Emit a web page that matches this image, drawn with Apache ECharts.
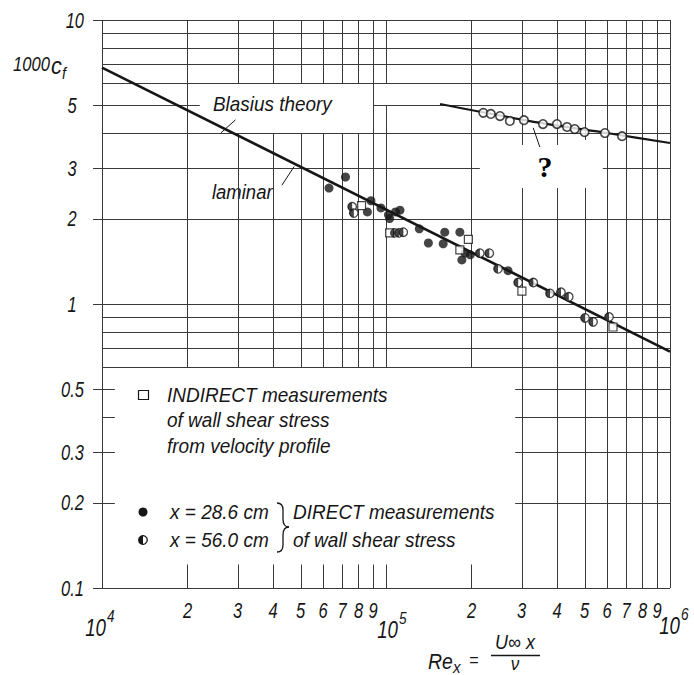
<!DOCTYPE html>
<html><head><meta charset="utf-8">
<script src="https://cdn.jsdelivr.net/npm/echarts@6/dist/echarts.min.js"></script>
<style>html,body{margin:0;padding:0;background:#fff}#c{width:694px;height:675px}</style>
</head><body><div id="c"></div>
<script>
// ---------------- data ----------------
const decades = [1e4, 1e5, 1e6];
const decadeExp = ['4', '5', '6'];
const minorDigits = [2, 3, 4, 5, 6, 7, 8, 9];
const yTickValues = [0.1, 0.2, 0.3, 0.5, 1, 2, 3, 5, 10];
const yTickTexts = ['0.1', '0.2', '0.3', '0.5', '1', '2', '3', '5', '10'];

const blasiusRe = [1e4, 1e6];
const blasiusCf = [6.8, 0.68];

const turbCurveRe = [1.55e5, 3.5e5, 6e5, 1e6];
const turbCurveCf = [5.06, 4.34, 4.0, 3.69];

const turbRe = [2.2e5, 2.34e5, 2.52e5, 2.73e5, 3.06e5, 3.57e5, 4.0e5, 4.34e5, 4.62e5, 5.0e5, 5.9e5, 6.78e5];
const turbCf = [4.71, 4.67, 4.59, 4.41, 4.44, 4.30, 4.30, 4.20, 4.13, 4.03, 4.0, 3.9];

const d286Re = [6.3e4, 7.2e4, 8.6e4, 8.85e4, 9.6e4, 1.02e5, 1.03e5, 1.08e5, 1.12e5, 1.31e5, 1.41e5, 1.59e5, 1.61e5, 1.82e5, 1.85e5, 1.9e5, 1.98e5, 2.69e5];
const d286Cf = [2.56, 2.80, 2.11, 2.31, 2.18, 2.06, 2.0, 2.11, 2.14, 1.84, 1.64, 1.63, 1.79, 1.79, 1.43, 1.51, 1.49, 1.31];

const d560Re = [7.6e4, 7.7e4, 1.07e5, 1.11e5, 1.15e5, 2.14e5, 2.31e5, 2.48e5, 2.92e5, 3.3e5, 3.78e5, 4.13e5, 4.4e5, 5.02e5, 5.36e5, 6.1e5];
const d560Cf = [2.20, 2.09, 1.78, 1.78, 1.79, 1.51, 1.51, 1.33, 1.19, 1.19, 1.09, 1.10, 1.06, 0.893, 0.865, 0.90];

const indRe = [8.2e4, 1.03e5, 1.82e5, 1.95e5, 3.01e5, 6.3e5];
const indCf = [2.22, 1.78, 1.55, 1.69, 1.11, 0.83];

// ---------------- helpers ----------------
const zip = (a, b) => a.map((v, i) => [v, b[i]]);
const FONT = "'Liberation Sans','Arimo','DejaVu Sans',sans-serif";
const INK = '#161616';
const GRIDC = '#3a3a3a';

// grid paper segments (log paper with gaps like the original)
const xMinor1 = minorDigits.map(d => d * 1e4);
const xMinor2 = minorDigits.map(d => d * 1e5);
const yUpper = [2, 3, 4, 5, 6, 7, 8, 9, 10];
const vGaps = { 30000: [[4, 6]], 40000: [[4, 6]], 50000: [[4, 6]], 60000: [[4, 6]], 70000: [[4, 6]], 80000: [[4, 6]],
  100000: [[5, 6]], 300000: [[2.56, 3.63]], 400000: [[2.56, 3.63]], 500000: [[2.56, 3.78]] };
const hGaps = { 5: [[2.21e4, 9e4]], 3: [[2.14e5, 5.8e5]] };
const segs = [];
function addSpan(fixed, lo, hi, gaps, vertical) {
  let start = lo;
  (gaps || []).forEach(g => {
    vertical ? segs.push([fixed, start, fixed, g[0]]) : segs.push([start, fixed, g[0], fixed]);
    start = g[1];
  });
  vertical ? segs.push([fixed, start, fixed, hi]) : segs.push([start, fixed, hi, fixed]);
}
[1e4].concat(xMinor1, [1e5], xMinor2, [1e6]).forEach(x => {
  const low = (x === 1e4 || x >= 3e5) ? 0.1 : 0.6;
  addSpan(x, low, 10, vGaps[Math.round(x)], true);
});
xMinor1.concat([1e5, 2e5]).forEach(x => segs.push([x, 0.1, x, 0.121]));
yUpper.concat([0.6, 0.7, 0.8, 0.9, 1]).forEach(y => addSpan(y, 1e4, 1e6, hGaps[y], false));
[0.2, 0.3, 0.4, 0.5].forEach(y => { segs.push([2.85e5, y, 1e6, y]); segs.push([1e4, y, 1.11e4, y]); });
segs.push([1e4, 0.1, 1e6, 0.1]);
yTickValues.forEach(y => segs.push([9.3e3, y, 1e4, y]));

const leaders = [
  [2.62e4, 4.0, 2.95e4, 4.45],
  [4.75e4, 3.05, 4.3e4, 2.62],
  [3.3e5, 4.17, 3.48e5, 3.57]
];

const xLabelItems = [];
[1e4, 1e5].forEach(d => minorDigits.forEach(k => xLabelItems.push({ v: d * k, t: String(k) })));

function segRender(color, width) {
  return function (params, api) {
    const p1 = api.coord([api.value(0), api.value(1)]);
    const p2 = api.coord([api.value(2), api.value(3)]);
    const snap = v => Math.round(v) + 0.5;
    const vert = Math.abs(p1[0] - p2[0]) < 0.01, hor = Math.abs(p1[1] - p2[1]) < 0.01;
    const s = { x1: vert ? snap(p1[0]) : p1[0], y1: hor ? snap(p1[1]) : p1[1], x2: vert ? snap(p2[0]) : p2[0], y2: hor ? snap(p2[1]) : p2[1] };
    return { type: 'line', shape: s, style: { stroke: color, lineWidth: width } };
  };
}
// italic text, horizontally condensed (scaleX about its anchor)
function txt(x, y, text, size, extra, sx) {
  return {
    type: 'text', x: x, y: y, scaleX: sx || 0.9, scaleY: 1, originX: 0, originY: 0,
    style: Object.assign({ text: text, fill: INK, fontSize: size, fontFamily: FONT, fontStyle: 'italic', align: 'left', verticalAlign: 'middle' }, extra || {})
  };
}
const braceStyle = { fill: 'none', stroke: INK, lineWidth: 1.3 };
const bz = (x1, y1, cx, cy, x2, y2) => ({ type: 'bezierCurve', shape: { x1: x1, y1: y1, cpx1: cx, cpy1: cy, x2: x2, y2: y2 }, style: braceStyle });
const ln = (x1, y1, x2, y2) => ({ type: 'line', shape: { x1: x1, y1: y1, x2: x2, y2: y2 }, style: braceStyle });

const chart = echarts.init(document.getElementById('c'), null, { renderer: 'svg' });
chart.setOption({
  backgroundColor: '#fff',
  animation: false,
  grid: { left: 102, top: 20, width: 568, height: 568 },
  xAxis: { type: 'log', logBase: 10, min: 1e4, max: 1e6, axisLine: { show: false }, axisTick: { show: false }, axisLabel: { show: false }, splitLine: { show: false } },
  yAxis: { type: 'log', logBase: 10, min: 0.1, max: 10, axisLine: { show: false }, axisTick: { show: false }, axisLabel: { show: false }, splitLine: { show: false } },
  series: [
    { type: 'custom', silent: true, z: 1, clip: false, renderItem: segRender(GRIDC, 1), encode: { x: [0, 2], y: [1, 3] }, data: segs },
    { type: 'custom', silent: true, z: 2, clip: false, renderItem: segRender(INK, 1), encode: { x: [0, 2], y: [1, 3] }, data: leaders },
    { type: 'line', z: 3, silent: true, showSymbol: false, data: zip(blasiusRe, blasiusCf), lineStyle: { color: INK, width: 2.6 } },
    { type: 'line', z: 3, silent: true, showSymbol: false, smooth: 0.3, data: zip(turbCurveRe, turbCurveCf), lineStyle: { color: INK, width: 2.2 } },
    { type: 'scatter', z: 4, symbol: 'circle', symbolSize: 9, data: zip(d286Re, d286Cf), itemStyle: { color: INK } },
    { type: 'scatter', z: 4, symbol: 'circle', symbolSize: 8.5, data: zip(d560Re, d560Cf), itemStyle: { color: '#fff', borderColor: INK, borderWidth: 1.3 } },
    { type: 'scatter', z: 5, symbol: 'path://M10,0 A10,10 0 0,0 10,20 Z', symbolSize: [4.3, 8.5], symbolOffset: [-2.1, 0], data: zip(d560Re, d560Cf), itemStyle: { color: INK } },
    { type: 'scatter', z: 4, symbol: 'rect', symbolSize: 8, data: zip(indRe, indCf), itemStyle: { color: '#fff', borderColor: INK, borderWidth: 1.2 } },
    { type: 'scatter', z: 4, symbol: 'circle', symbolSize: 8.5, data: zip(turbRe, turbCf), itemStyle: { color: '#fff', borderColor: INK, borderWidth: 1.6 } },
    { type: 'custom', silent: true, z: 6, clip: false, encode: { x: 0, y: 1 },
      data: xLabelItems.map(o => [o.v, 0.1]),
      renderItem: function (params, api) {
        const p = api.coord([api.value(0), api.value(1)]);
        return txt(p[0], p[1] + 22, xLabelItems[params.dataIndex].t, 22, { align: 'center' }, 0.75);
      } },
    { type: 'custom', silent: true, z: 6, clip: false, encode: { x: 0, y: 1 },
      data: decades.map(d => [d, 0.1]),
      renderItem: function (params, api) {
        const p = api.coord([api.value(0), api.value(1)]);
        const dx = [4, 12, 10][params.dataIndex], dy = [40, 42, 38][params.dataIndex];
        return { type: 'group', children: [
          txt(p[0] + dx, p[1] + dy, '10', 24, { align: 'right' }, 0.78),
          txt(p[0] + dx + 1, p[1] + dy - 12, decadeExp[params.dataIndex], 17, { align: 'left' }, 0.8)
        ] };
      } },
    { type: 'custom', silent: true, z: 6, clip: false, encode: { x: 0, y: 1 },
      data: yTickValues.map(v => [1e4, v]),
      renderItem: function (params, api) {
        const p = api.coord([api.value(0), api.value(1)]);
        const t = yTickTexts[params.dataIndex];
        return t.length === 1 ? txt(p[0] - 30, p[1], t, 22, { align: 'center' }, 0.75) : txt(p[0] - 18, p[1], t, 22, { align: 'right' }, 0.75);
      } }
  ],
  graphic: [
    txt(13, 64, '1000', 21, null, 0.79),
    txt(51, 66, 'c', 24, null, 0.9),
    txt(62, 73, 'f', 16, null, 0.9),
    txt(213, 104, 'Blasius theory', 21, null, 0.9),
    txt(212, 192, 'laminar', 21, null, 0.88),
    { type: 'text', x: 545, y: 166, style: { text: '?', fill: '#000', fontSize: 30, fontWeight: 'bold', fontFamily: "'Liberation Serif','DejaVu Serif',serif", align: 'center', verticalAlign: 'middle' } },
    { type: 'rect', shape: { x: 138.5, y: 390.5, width: 10, height: 9 }, style: { fill: '#fff', stroke: INK, lineWidth: 1.2 } },
    txt(167, 395, 'INDIRECT measurements', 20, null, 0.95),
    txt(167, 420, 'of wall shear stress', 20, null, 0.95),
    txt(167, 446, 'from velocity profile', 20, null, 0.95),
    { type: 'circle', shape: { cx: 143, cy: 512, r: 4.5 }, style: { fill: INK } },
    { type: 'circle', shape: { cx: 143, cy: 540, r: 4.3 }, style: { fill: '#fff', stroke: INK, lineWidth: 1.3 } },
    { type: 'sector', shape: { cx: 143, cy: 540, r: 4.3, r0: 0, startAngle: Math.PI / 2, endAngle: Math.PI * 3 / 2, clockwise: true }, style: { fill: INK } },
    txt(170, 512, 'x = 28.6 cm', 20, null, 0.95),
    txt(170, 540, 'x = 56.0 cm', 20, null, 0.95),
    bz(277, 503, 283, 503, 283, 510),
    ln(283, 510, 283, 519),
    bz(283, 519, 283, 527, 289, 527),
    bz(289, 527, 283, 527, 283, 535),
    ln(283, 535, 283, 545),
    bz(283, 545, 283, 552, 277, 552),
    txt(293, 512, 'DIRECT measurements', 20, null, 0.95),
    txt(293, 540, 'of wall shear stress', 20, null, 0.95),
    txt(428, 661, 'Re', 22, null, 0.88),
    txt(453, 667, 'x', 17, null, 0.9),
    txt(469, 660, '=', 18, null, 0.9),
    txt(515, 642, 'U\u221E x', 20, { align: 'center' }, 0.9),
    ln(491, 655.5, 540, 655.5),
    txt(515, 664, '\u03BD', 18, { align: 'center' }, 0.95)
  ]
});
</script>
</body></html>
